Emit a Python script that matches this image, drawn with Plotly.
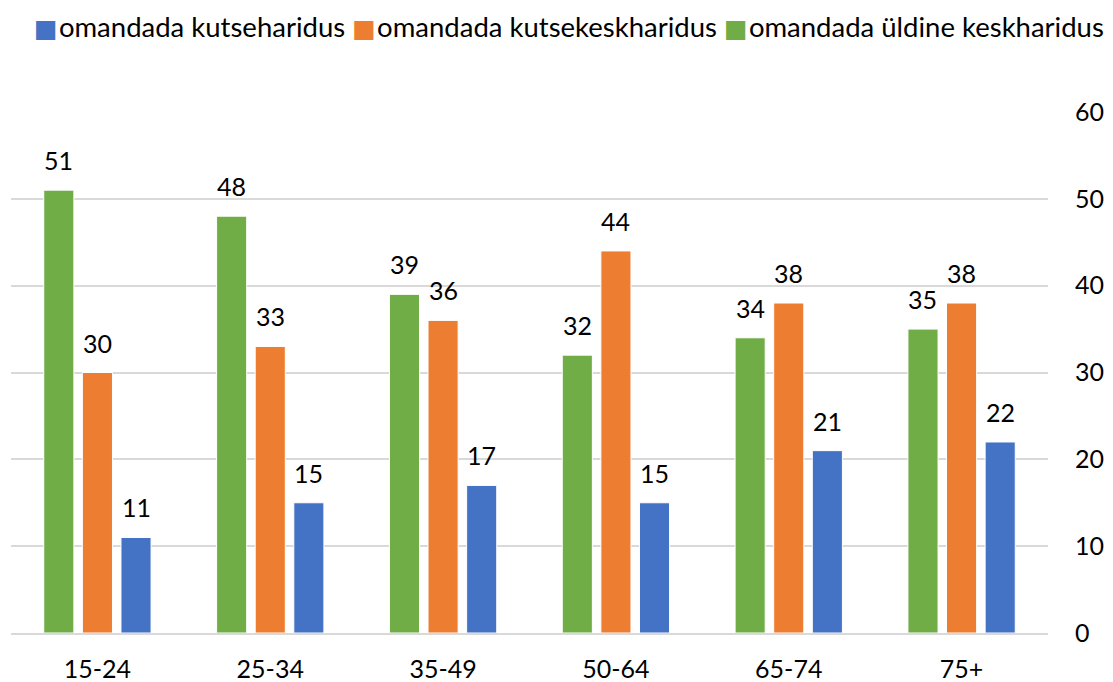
import plotly.graph_objects as go

categories = ["15-24", "25-34", "35-49", "50-64", "65-74", "75+"]
uldine = [51, 48, 39, 32, 34, 35]
kutsekesk = [30, 33, 36, 44, 38, 38]
kutse = [11, 15, 17, 15, 21, 22]

names = ["omandada üldine keskharidus", "omandada kutsekeskharidus", "omandada kutseharidus"]
colors = ["#70AD47", "#ED7D31", "#4472C4"]
series = [uldine, kutsekesk, kutse]

FONT = "Lato, Calibri, Carlito, sans-serif"
W, H = 1113, 682
ml, mr, mt, mb = 11, 65, 112, 49
bargap = 0.33
plot_w = W - ml - mr
plot_h = H - mt - mb
slot = plot_w / len(categories) * (1 - bargap) / 3

fig = go.Figure()
for i, (nm, col, vals) in enumerate(zip(names, colors, series)):
    fig.add_trace(go.Bar(
        x=categories, y=vals, name=nm,
        marker=dict(color=col, line=dict(color="white", width=1)),
        showlegend=False,
    ))
    for c, v in zip(categories, vals):
        fig.add_annotation(x=c, y=v, text=str(v), showarrow=False,
                           yanchor="bottom", yshift=13, xshift=(i - 1) * slot,
                           font=dict(size=25, color="#000000", family=FONT))

# legend as a single line of text (order: blue, orange, green)
legend_parts = []
for nm, col in reversed(list(zip(names, colors))):
    legend_parts.append(
        f"<span style='color:{col};font-family:DejaVu Sans;font-size:25px'>■</span>"
        f"<span style='font-size:5px'>&nbsp;</span>{nm}")
fig.add_annotation(
    xref="paper", yref="paper",
    x=(W - 7 - ml) / plot_w, y=(plot_h + mt - 26) / plot_h,
    xanchor="right", yanchor="middle", showarrow=False,
    text="&nbsp;".join(legend_parts),
    font=dict(size=27.5, color="#000000", family=FONT),
)

fig.update_layout(
    width=W, height=H,
    margin=dict(l=ml, r=mr, t=mt, b=mb, autoexpand=False),
    barmode="group", bargap=bargap, bargroupgap=0.22,
    plot_bgcolor="white", paper_bgcolor="white",
    font=dict(family=FONT, size=25, color="#000000"),
    showlegend=False,
    xaxis=dict(showgrid=False, showline=True, linecolor="#D9D9D9", linewidth=1.5,
               ticks="", tickfont=dict(size=25), ticklabelstandoff=13, automargin=False),
    yaxis=dict(side="right", range=[0, 60], dtick=10, showgrid=True,
               gridcolor="#D9D9D9", gridwidth=1.5, zeroline=False,
               ticks="", tickfont=dict(size=25), ticklabelstandoff=26, automargin=False),
)

fig.write_html("out.html", config={"displayModeBar": False},
               post_script="document.body.style.margin='0';document.body.style.overflow='hidden';")
